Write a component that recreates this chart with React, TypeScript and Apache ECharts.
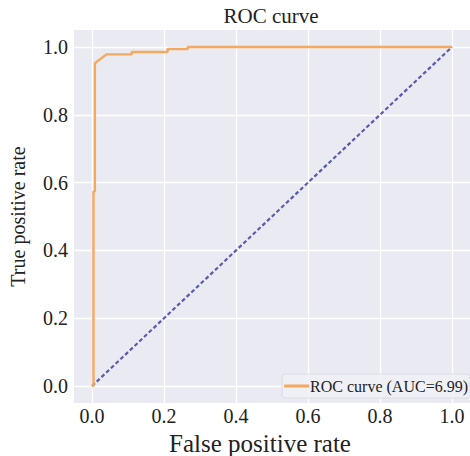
import React, { useEffect, useRef } from "react";
import * as echarts from "echarts";

const fpr = [0, 0.004, 0.004, 0.008, 0.008, 0.04, 0.11, 0.11, 0.21, 0.21, 0.266, 0.266, 1.0];
const tpr = [0, 0, 0.574, 0.574, 0.952, 0.978, 0.978, 0.985, 0.985, 0.994, 0.994, 1.0, 1.0];
const diagX = [0, 1];
const diagY = [0, 1];
const tickValues = [0, 0.2, 0.4, 0.6, 0.8, 1.0];
const seriesName = "ROC curve (AUC=6.99)";

const FONT = "'Liberation Serif', 'Times New Roman', serif";

export default function App() {
  const ref = useRef<HTMLDivElement>(null);
  useEffect(() => {
    document.body.style.margin = "0";
    const chart = echarts.init(ref.current!, null, { renderer: "svg" });
    const axisCommon = {
      type: "value" as const,
      min: -0.05,
      max: 1.05,
      axisLine: { show: false },
      axisTick: { show: false, customValues: tickValues },
      splitLine: { show: true, lineStyle: { color: "#ffffff", width: 1.3 } },
      axisLabel: {
        customValues: tickValues,
        formatter: (v: number) => v.toFixed(1),
        color: "#222222",
        fontFamily: FONT,
        fontSize: 20,
      },
      nameLocation: "middle" as const,
    };
    chart.setOption({
      animation: false,
      backgroundColor: "#ffffff",
      title: {
        text: "ROC curve",
        left: 266,
        top: 0,
        textAlign: "center",
        textStyle: { color: "#222222", fontFamily: FONT, fontSize: 21, fontWeight: "normal" },
      },
      grid: {
        left: 74,
        right: 0,
        top: 30,
        bottom: 53,
        containLabel: false,
        outerBoundsMode: "none",
        show: true,
        backgroundColor: "#EAEAF2",
        borderWidth: 0,
      },
      xAxis: {
        ...axisCommon,
        name: "False positive rate",
        nameGap: 23,
        nameTextStyle: {
          color: "#222222",
          fontFamily: FONT,
          fontSize: 25,
          lineHeight: 26,
          padding: [0, 24, 0, 0],
        },
        axisLabel: { ...axisCommon.axisLabel, margin: 3 },
      },
      yAxis: {
        ...axisCommon,
        name: "True positive rate",
        nameGap: 46,
        nameTextStyle: { color: "#222222", fontFamily: FONT, fontSize: 20 },
        axisLabel: { ...axisCommon.axisLabel, margin: 6 },
      },
      legend: {
        right: 0,
        bottom: 58,
        itemWidth: 25,
        itemHeight: 3,
        itemGap: 0,
        padding: [4, 2, 4, 2],
        backgroundColor: "rgba(240,240,246,0.9)",
        borderColor: "#dcdce4",
        borderWidth: 1,
        borderRadius: 3,
        textStyle: { color: "#222222", fontFamily: FONT, fontSize: 16, padding: [0, 0, 0, -4] },
        data: [{ name: seriesName, icon: "rect" }],
      },
      series: [
        {
          type: "line",
          name: "diag",
          data: diagX.map((x, i) => [x, diagY[i]]),
          showSymbol: false,
          symbol: "none",
          lineStyle: { color: "#5a5ab0", width: 2.2, type: [4, 2.5] },
          z: 2,
        },
        {
          type: "line",
          name: seriesName,
          data: fpr.map((x, i) => [x, tpr[i]]),
          showSymbol: false,
          symbol: "none",
          itemStyle: { color: "#F5A95E" },
          lineStyle: { color: "#F5A95E", width: 2.4 },
          z: 3,
        },
      ],
    });
    return () => chart.dispose();
  }, []);
  return <div ref={ref} style={{ width: 470, height: 456 }} />;
}
